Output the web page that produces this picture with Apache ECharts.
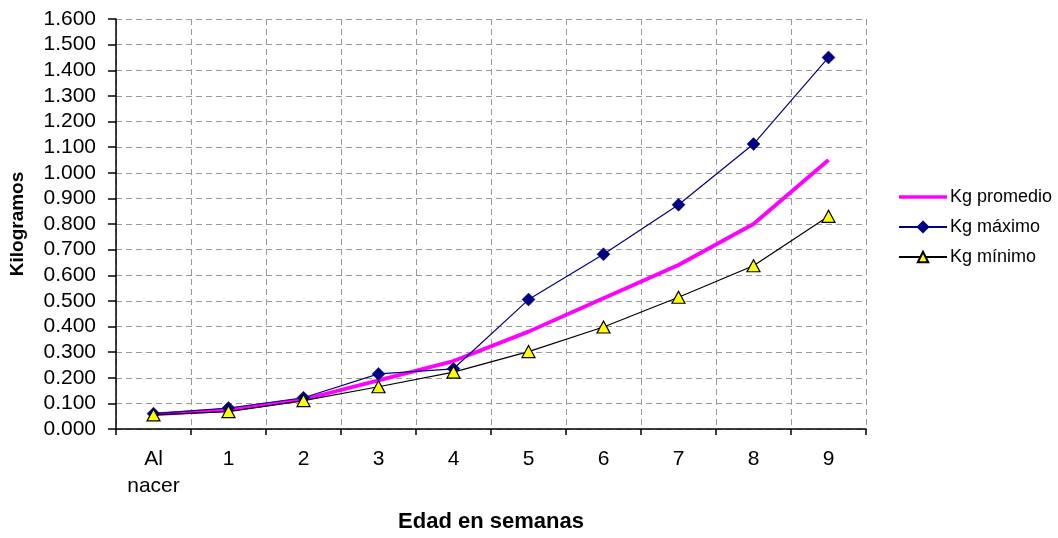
<!DOCTYPE html>
<html>
<head>
<meta charset="utf-8">
<script src="https://cdn.jsdelivr.net/npm/echarts@6/dist/echarts.min.js"></script>
<style>
  html, body { margin: 0; padding: 0; background: #fff; }
  #chart { width: 1058px; height: 538px; }
</style>
</head>
<body>
<div id="chart"></div>
<script>
// Weekly weight of the litter, in kilograms
const semanas = ['Al\nnacer', '1', '2', '3', '4', '5', '6', '7', '8', '9'];
const kgPromedio = [0.057, 0.075, 0.115, 0.19, 0.265, 0.38, 0.51, 0.64, 0.80, 1.05];
const kgMaximo   = [0.060, 0.082, 0.122, 0.215, 0.235, 0.505, 0.682, 0.875, 1.112, 1.450];
const kgMinimo   = [0.055, 0.068, 0.111, 0.165, 0.222, 0.302, 0.398, 0.514, 0.637, 0.830];

const FONT = '"Liberation Sans", Arial, sans-serif';
const gridLine = { show: true, lineStyle: { color: '#999', type: [6, 4], width: 1 } };

const chart = echarts.init(document.getElementById('chart'), null, { renderer: 'canvas' });
chart.setOption({
  backgroundColor: '#fff',
  animation: false,
  textStyle: { fontFamily: FONT },
  grid: { left: 116, width: 750, top: 19, height: 414, containLabel: false },
  legend: {
    orient: 'vertical',
    left: 893,
    top: 183,
    itemWidth: 48,
    itemHeight: 13,
    itemGap: 12,
    textStyle: { fontFamily: FONT, fontSize: 18, color: '#000', padding: [0, 0, 0, -2] },
    data: [
      { name: 'Kg promedio', icon: 'path://M0,0 L48,0 L48,3.5 L0,3.5 Z' },
      'Kg máximo',
      'Kg mínimo'
    ]
  },
  xAxis: {
    type: 'category',
    data: semanas,
    boundaryGap: true,
    name: 'Edad en semanas',
    nameLocation: 'middle',
    nameGap: 82,
    nameTextStyle: { fontFamily: FONT, fontSize: 22, fontWeight: 'bold', color: '#000' },
    axisLine: { show: true, lineStyle: { color: '#000', width: 1.5 } },
    axisTick: { show: true, inside: false, length: 6, lineStyle: { color: '#000', width: 1.5 } },
    axisLabel: { fontFamily: FONT, fontSize: 21, color: '#000', margin: 17, lineHeight: 27, interval: 0 },
    splitLine: gridLine
  },
  yAxis: {
    type: 'value',
    min: 0,
    max: 1.6,
    interval: 0.1,
    name: 'Kilogramos',
    nameLocation: 'middle',
    nameGap: 89,
    nameTextStyle: { fontFamily: FONT, fontSize: 19, fontWeight: 'bold', color: '#000' },
    axisLine: { show: true, lineStyle: { color: '#000', width: 1.5 } },
    axisTick: { show: true, inside: false, length: 8, lineStyle: { color: '#000', width: 1.5 } },
    axisLabel: {
      fontFamily: FONT, fontSize: 21, color: '#000', margin: 20,
      formatter: v => v.toFixed(3)
    },
    splitLine: gridLine
  },
  series: [
    {
      name: 'Kg promedio',
      type: 'line',
      data: kgPromedio,
      showSymbol: false,
      symbol: 'none',
      lineStyle: { color: '#FF00FF', width: 3.8 },
      itemStyle: { color: '#FF00FF' },
      z: 2
    },
    {
      name: 'Kg máximo',
      type: 'line',
      data: kgMaximo,
      symbol: 'diamond',
      symbolSize: [13, 13],
      lineStyle: { color: '#000080', width: 1.2 },
      itemStyle: { color: '#000080', borderColor: '#000080', borderWidth: 0.5 },
      z: 3
    },
    {
      name: 'Kg mínimo',
      type: 'line',
      data: kgMinimo,
      symbol: 'triangle',
      symbolSize: [13, 12],
      lineStyle: { color: '#000', width: 1.2 },
      itemStyle: { color: '#FFFF00', borderColor: '#000', borderWidth: 1.2 },
      z: 4
    }
  ]
});
</script>
</body>
</html>
